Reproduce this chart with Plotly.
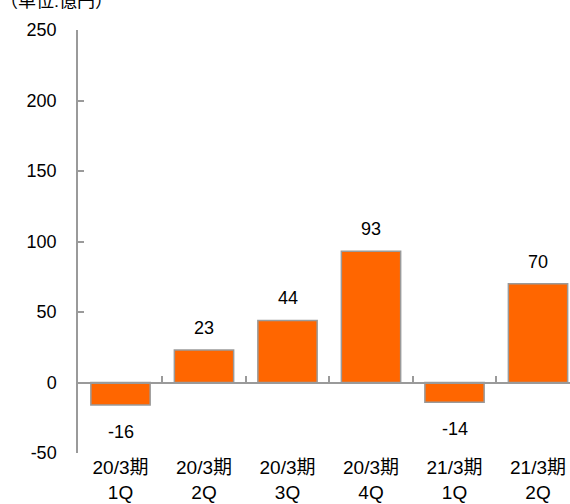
import plotly.graph_objects as go

categories = ["20/3期<br>1Q", "20/3期<br>2Q", "20/3期<br>3Q", "20/3期<br>4Q", "21/3期<br>1Q", "21/3期<br>2Q"]
values = [-16, 23, 44, 93, -14, 70]
y_ticks = [-50, 0, 50, 100, 150, 200, 250]
y_tick_text = ["-50", "0", "50", "100", "150", "200", "250"]
unit_label = "（単位:億円）"

FONT = "Arial, Liberation Sans, Noto Sans CJK JP, sans-serif"
GRAY = "#9a9a9a"
idx = list(range(len(categories)))

fig = go.Figure()
fig.add_trace(go.Bar(
    x=idx, y=values, width=0.71,
    marker=dict(color="#FF6600", line=dict(color=GRAY, width=1.5)),
    showlegend=False, hoverinfo="skip",
))
# dummy trace on the zero-line axis
fig.add_trace(go.Scatter(x=idx, y=[0]*len(idx), xaxis="x2", mode="none",
                         showlegend=False, hoverinfo="skip"))

for i, v in zip(idx, values):
    fig.add_annotation(x=i, y=v, text=str(v), showarrow=False,
                       yanchor="middle", yshift=22 if v >= 0 else -27,
                       font=dict(size=18, color="black", family=FONT))

fig.add_annotation(xref="paper", yref="paper", x=0, y=1, xanchor="left",
                   xshift=-80, yanchor="middle", yshift=29,
                   text=unit_label, showarrow=False,
                   font=dict(size=18, color="black", family=FONT))

xr = [-0.509, 5.383]
yr = [-50, 250]
fig.update_layout(
    width=570, height=504,
    margin=dict(l=78, r=0, t=30, b=51),
    paper_bgcolor="white", plot_bgcolor="white",
    font=dict(family=FONT, size=18, color="black"),
    xaxis=dict(range=xr, tickmode="array", tickvals=idx, ticktext=categories,
               showline=False, showgrid=False, zeroline=False, ticks="",
               ticklabelstandoff=1,
               tickfont=dict(size=19, color="black")),
    xaxis2=dict(range=xr, overlaying="x", anchor="free",
                position=(0 - yr[0]) / (yr[1] - yr[0]),
                tickmode="array", tickvals=[i + 0.5 for i in idx[:-1]],
                showticklabels=False, ticks="inside", ticklen=6, tickwidth=1.5,
                tickcolor=GRAY, showline=True, linecolor=GRAY, linewidth=1.5,
                showgrid=False, zeroline=False),
    yaxis=dict(range=yr, tickmode="array", tickvals=y_ticks, ticktext=y_tick_text,
               showline=True, linecolor=GRAY, linewidth=1.5,
               ticks="inside", ticklen=6, tickwidth=1.5, tickcolor=GRAY,
               showgrid=False, zeroline=False, ticklabelstandoff=16,
               tickfont=dict(size=18, color="black")),
    bargap=0.29,
)
fig.write_html("out.html")
